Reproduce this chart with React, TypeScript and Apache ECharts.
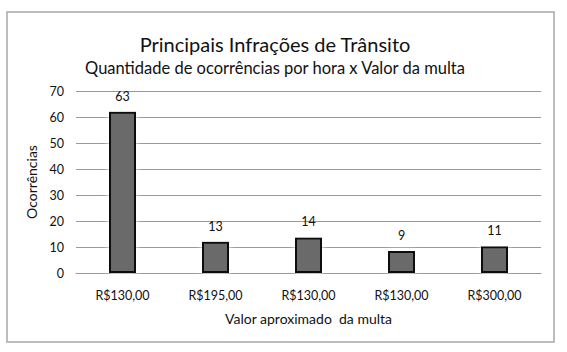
import React, { useEffect, useRef } from "react";
import * as echarts from "echarts";

const categories = ["R$130,00", "R$195,00", "R$130,00", "R$130,00", "R$300,00"];
const barValues = [62, 12, 13.7, 8.5, 10.3];
const labelTexts = ["63", "13", "14", "9", "11"];
const yTicks = { min: 0, max: 70, interval: 10 };

const FONT = "Lato";

export default function App() {
  const ref = useRef<HTMLDivElement>(null);
  useEffect(() => {
    if (!ref.current) return;
    const chart = echarts.init(ref.current, null, { renderer: "svg" });
    chart.setOption({
      animation: false,
      backgroundColor: "#fff",
      textStyle: { fontFamily: FONT, color: "#111" },
      graphic: [
        {
          type: "rect",
          shape: { x: 7, y: 12, width: 547, height: 330 },
          style: { fill: "none", stroke: "#a8a8a8", lineWidth: 1.5 },
          silent: true,
        },
        {
          type: "text",
          x: 275,
          y: 44,
          style: {
            text: "Principais Infrações de Trânsito",
            font: `20px ${FONT}`,
            fill: "#111",
            textAlign: "center",
            textVerticalAlign: "middle",
          },
        },
        {
          type: "text",
          x: 275,
          y: 68,
          style: {
            text: "Quantidade de ocorrências por hora x Valor da multa",
            font: `16.5px ${FONT}`,
            fill: "#111",
            textAlign: "center",
            textVerticalAlign: "middle",
          },
        },
      ],
      grid: { left: 76, right: 26, top: 91, bottom: 79 },
      xAxis: {
        type: "category",
        data: categories,
        axisTick: { show: false },
        axisLine: { lineStyle: { color: "#999", width: 1.2 } },
        axisLabel: { color: "#111", fontSize: 12.5, margin: 16, fontFamily: FONT },
        name: "Valor aproximado  da multa",
        nameLocation: "middle",
        nameGap: 38,
        nameTextStyle: { fontSize: 14, color: "#111", fontFamily: FONT },
      },
      yAxis: {
        type: "value",
        min: yTicks.min,
        max: yTicks.max,
        interval: yTicks.interval,
        axisLine: { show: false },
        axisTick: { show: false },
        axisLabel: { color: "#111", fontSize: 12.5, margin: 12, fontFamily: FONT },
        splitLine: { lineStyle: { color: "#999", width: 1.2 } },
        name: "Ocorrências",
        nameLocation: "middle",
        nameGap: 29,
        nameRotate: 90,
        nameTextStyle: { fontSize: 14, color: "#111", fontFamily: FONT },
      },
      series: [
        {
          type: "bar",
          data: barValues,
          barWidth: 27,
          itemStyle: {
            color: "#6a6a6a",
            borderColor: "#111",
            borderWidth: 2,
            shadowColor: "#ffffff",
            shadowBlur: 6,
          },
          label: {
            show: true,
            position: "top",
            distance: 9,
            fontSize: 12.5,
            color: "#111",
            fontFamily: FONT,
            formatter: (p: any) => labelTexts[p.dataIndex],
          },
        },
      ],
    });
    return () => chart.dispose();
  }, []);
  return (
    <div
      ref={ref}
      style={{ position: "fixed", left: 0, top: 0, width: 567, height: 352 }}
    />
  );
}
